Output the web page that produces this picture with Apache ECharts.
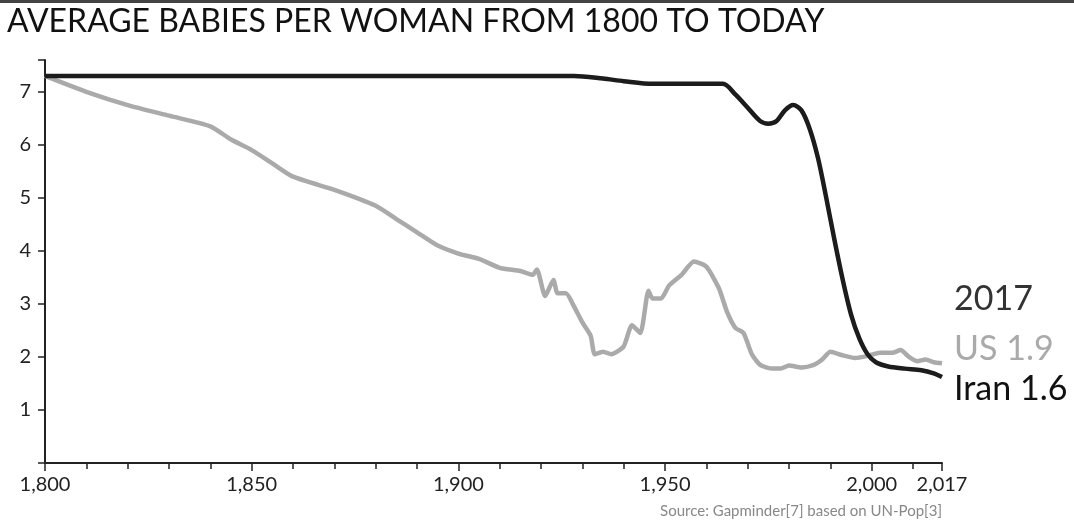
<!DOCTYPE html>
<html>
<head>
<meta charset="utf-8">
<script src="https://cdn.jsdelivr.net/npm/echarts@6/dist/echarts.min.js"></script>
<style>
  html, body { margin: 0; padding: 0; background: #fff; }
  #chart { width: 1074px; height: 522px; }
</style>
</head>
<body>
<div id="chart"></div>
<script>
// Babies per woman
const usData = [
  [1800, 7.3], [1810, 7.0], [1820, 6.75], [1830, 6.55], [1840, 6.35], [1845, 6.1],
  [1850, 5.9], [1855, 5.65], [1860, 5.4], [1870, 5.15], [1880, 4.85], [1885, 4.6],
  [1890, 4.35], [1895, 4.1], [1900, 3.95], [1905, 3.85], [1910, 3.68], [1915, 3.62],
  [1918, 3.55], [1919, 3.65], [1921, 3.15], [1923, 3.45], [1924, 3.2], [1926, 3.2],
  [1928, 2.95], [1930, 2.65], [1932, 2.4], [1933, 2.05], [1935, 2.1], [1937, 2.05],
  [1940, 2.2], [1942, 2.6], [1944, 2.45], [1946, 3.25], [1947, 3.1], [1949, 3.1],
  [1951, 3.35], [1954, 3.55], [1957, 3.8], [1960, 3.7], [1963, 3.3], [1965, 2.85],
  [1967, 2.55], [1969, 2.45], [1971, 2.05], [1973, 1.85], [1976, 1.78], [1978, 1.78],
  [1980, 1.84], [1983, 1.8], [1986, 1.85], [1988, 1.95], [1990, 2.1], [1993, 2.03],
  [1996, 1.98], [1999, 2.02], [2002, 2.08], [2005, 2.08], [2007, 2.13], [2009, 2.0],
  [2011, 1.92], [2013, 1.95], [2015, 1.9], [2017, 1.88]
];
const iranData = [
  [1800, 7.3], [1850, 7.3], [1900, 7.3], [1928, 7.3], [1935, 7.25], [1940, 7.2],
  [1947, 7.15], [1955, 7.15], [1964, 7.15], [1967, 6.95], [1970, 6.7], [1973, 6.45],
  [1975, 6.4], [1977, 6.45], [1979, 6.65], [1981, 6.75], [1983, 6.65], [1985, 6.3],
  [1987, 5.75], [1989, 5.0], [1991, 4.2], [1993, 3.45], [1995, 2.8], [1997, 2.35],
  [1999, 2.05], [2001, 1.9], [2004, 1.82], [2008, 1.78], [2012, 1.75], [2015, 1.69],
  [2017, 1.62]
];
const yTicks = [1, 2, 3, 4, 5, 6, 7];
const font = 'Lato';

const chart = echarts.init(document.getElementById('chart'));
chart.setOption({
  animation: false,
  grid: { left: 45, right: 132, top: 60, bottom: 59 },
  xAxis: {
    type: 'value', min: 1800, max: 2017, interval: 50,
    axisLine: { lineStyle: { color: '#222', width: 2 } },
    axisTick: { inside: false, length: 8, lineStyle: { color: '#222', width: 1.5 } },
    minorTick: { show: true, splitNumber: 5, length: 6, lineStyle: { color: '#222', width: 1.5 } },
    axisLabel: { color: '#222', fontFamily: font, fontSize: 20, margin: 12 },
    splitLine: { show: false }
  },
  yAxis: {
    type: 'value', min: 0, max: 7.6, interval: 1,
    axisLine: { show: true, lineStyle: { color: '#222', width: 2 } },
    axisTick: { show: true, length: 7, lineStyle: { color: '#222', width: 1.5 } },
    axisLabel: {
      color: '#222', fontFamily: font, fontSize: 20, margin: 14,
      formatter: v => yTicks.includes(v) ? String(v) : ''
    },
    splitLine: { show: false }
  },
  series: [
    { name: 'US', type: 'line', data: usData, smooth: 0.2, symbol: 'none',
      lineStyle: { color: '#aaaaaa', width: 4.5 } },
    { name: 'Iran', type: 'line', data: iranData, smooth: 0.3, symbol: 'none',
      lineStyle: { color: '#1c1c1c', width: 4.5 } }
  ],
  graphic: [
    { type: 'rect', shape: { x: 0, y: 0, width: 1074, height: 3 }, style: { fill: '#444' } },
    { type: 'text', left: 7, top: 6, style: { text: 'AVERAGE BABIES PER WOMAN FROM 1800 TO TODAY', fill: '#111', font: '32px ' + font } },
    { type: 'text', left: 954, top: 282, style: { text: '2017', fill: '#333', font: '34px ' + font } },
    { type: 'text', left: 954, top: 332, style: { text: 'US 1.9', fill: '#aaaaaa', font: '34px ' + font } },
    { type: 'text', left: 954, top: 372, style: { text: 'Iran 1.6', fill: '#111', font: '34px ' + font } },
    { type: 'text', right: 132, top: 504, style: { text: 'Source: Gapminder[7] based on UN-Pop[3]', fill: '#888', font: '15px ' + font, align: 'right' } }
  ]
});
</script>
</body>
</html>
